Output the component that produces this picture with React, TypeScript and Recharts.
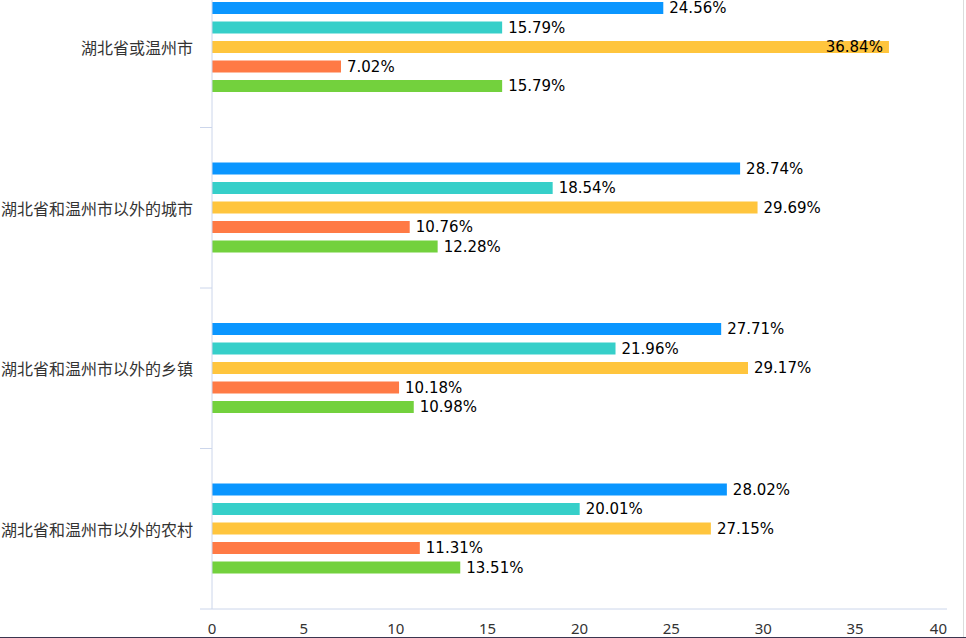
import { Bar, BarChart, LabelList, XAxis, YAxis } from "recharts";

const categories = [
  "湖北省或温州市",
  "湖北省和温州市以外的城市",
  "湖北省和温州市以外的乡镇",
  "湖北省和温州市以外的农村",
];
const blueValues = [24.56, 28.74, 27.71, 28.02];
const tealValues = [15.79, 18.54, 21.96, 20.01];
const yellowValues = [36.84, 29.69, 29.17, 27.15];
const orangeValues = [7.02, 10.76, 10.18, 11.31];
const greenValues = [15.79, 12.28, 10.98, 13.51];
const xTicks = [0, 5, 10, 15, 20, 25, 30, 35, 40];

const series = [
  { key: "s1", values: blueValues, color: "#0a96ff" },
  { key: "s2", values: tealValues, color: "#36cfc9" },
  { key: "s3", values: yellowValues, color: "#ffc53d" },
  { key: "s4", values: orangeValues, color: "#ff7a45" },
  { key: "s5", values: greenValues, color: "#73d13d" },
];

const data = categories.map((name, i) => {
  const row: Record<string, string | number> = { name };
  series.forEach((s) => {
    row[s.key] = s.values[i];
  });
  return row;
});

const AXIS = "#ccd6eb";
const CHART_W = 966;
const CHART_H = 682;
const MARGIN_RIGHT = 19;
const PLOT_RIGHT = CHART_W - MARGIN_RIGHT;
const LABEL_FONT = "'DejaVu Sans', sans-serif";

function CategoryTick(props: any) {
  const { x, y, payload, index, visibleTicksCount } = props;
  const half = payload?.offset || 80.25;
  return (
    <g>
      <line x1={x - 12} x2={x} y1={y - half} y2={y - half} stroke={AXIS} />
      {index === visibleTicksCount - 1 && (
        <line x1={x - 12} x2={x} y1={y + half} y2={y + half} stroke={AXIS} />
      )}
      <text
        x={x - 19}
        y={y}
        textAnchor="end"
        dominantBaseline="central"
        fill="#333"
        fontSize={16}
        fontFamily="'Noto Sans CJK SC', sans-serif"
      >
        {payload.value}
      </text>
    </g>
  );
}

function ValueTick(props: any) {
  const { x, y, payload, index, visibleTicksCount } = props;
  const last = index === visibleTicksCount - 1;
  return (
    <text
      x={x}
      y={y}
      dy="0.71em"
      textAnchor={last ? "end" : "middle"}
      fill="#333"
      fontSize={15}
      fontFamily="'Noto Sans', sans-serif"
    >
      {payload.value}
    </text>
  );
}

function ValueLabel(props: any) {
  const { x, y, width, height, value } = props;
  const end = x + width;
  const inside = end + 64 > PLOT_RIGHT;
  return (
    <text
      x={inside ? end - 6 : end + 6}
      y={y + height / 2}
      textAnchor={inside ? "end" : "start"}
      dominantBaseline="central"
      fill="#000"
      fontSize={15}
      fontFamily={LABEL_FONT}
    >
      {`${value}%`}
    </text>
  );
}

export default function App() {
  return (
    <div
      style={{
        position: "fixed",
        left: 0,
        top: 0,
        width: 966,
        height: 638,
        overflow: "hidden",
        background: "#fff",
      }}
    >
      <div style={{ position: "absolute", left: 0, top: -33 }}>
        <BarChart
          width={CHART_W}
          height={CHART_H}
          data={data}
          layout="vertical"
          margin={{ top: 0, right: MARGIN_RIGHT, left: 0, bottom: 0 }}
          barSize={12}
          barGap={7.5}
        >
          <XAxis
            type="number"
            domain={[0, 40]}
            ticks={xTicks}
            interval={0}
            height={40}
            axisLine={{ stroke: AXIS }}
            tickLine={false}
            tickSize={0}
            tickMargin={14}
            tick={<ValueTick />}
          />
          <YAxis
            type="category"
            dataKey="name"
            width={212}
            axisLine={{ stroke: AXIS }}
            tickLine={false}
            tickSize={0}
            tickMargin={0}
            interval={0}
            tick={<CategoryTick />}
          />
          {series.map((s) => (
            <Bar key={s.key} dataKey={s.key} fill={s.color} isAnimationActive={false}>
              <LabelList dataKey={s.key} content={<ValueLabel />} />
            </Bar>
          ))}
        </BarChart>
      </div>
      <div
        style={{ position: "absolute", left: 963, top: 0, width: 1, height: 637, background: "#dcdcdc" }}
      />
      <div
        style={{ position: "absolute", left: 0, top: 637, width: 966, height: 1, background: "#3b3650" }}
      />
    </div>
  );
}
